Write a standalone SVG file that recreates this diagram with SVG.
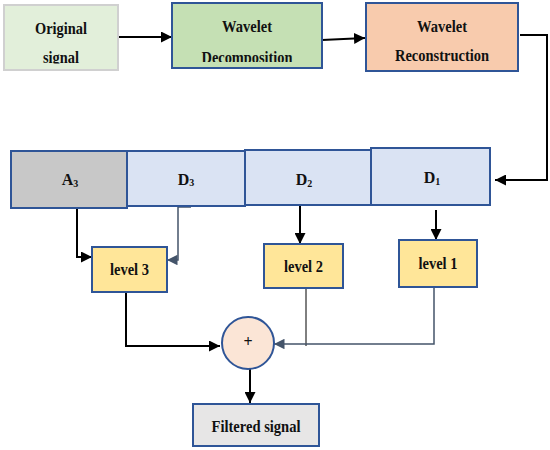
<svg xmlns="http://www.w3.org/2000/svg" width="550" height="450" viewBox="0 0 550 450">
<style>
text{font-family:"Liberation Serif","DejaVu Serif",serif;font-weight:bold;font-size:16px;fill:#111;text-anchor:middle}
.box{stroke:#2f5597;stroke-width:2}
.k{fill:none;stroke:#000;stroke-width:2}
.g{fill:none;stroke:#44546a;stroke-width:1.5}
.t{fill:none;stroke:#000;stroke-width:1}
</style>
<defs>
<marker id="ak" viewBox="0 0 10 10" refX="10" refY="5" markerWidth="5.5" markerHeight="5.5" orient="auto" markerUnits="strokeWidth"><path d="M0,0L10,5L0,10z" fill="#000"/></marker>
<marker id="ag" viewBox="0 0 10 10" refX="10" refY="5" markerWidth="7" markerHeight="7" orient="auto" markerUnits="strokeWidth"><path d="M0,0L10,5L0,10z" fill="#44546a"/></marker>
<clipPath id="c1"><rect x="4" y="5" width="114" height="58.5"/></clipPath>
<clipPath id="c2"><rect x="172" y="3" width="150" height="59"/></clipPath>
</defs>
<g id="connectors">
<path class="k" d="M118,37H172" marker-end="url(#ak)"/>
<path class="k" d="M322,40L365,38" marker-end="url(#ak)"/>
<path class="k" d="M520,35H547V180H495" marker-end="url(#ak)"/>
<path class="k" d="M57,208H77V257H92" marker-end="url(#ak)"/>
<path class="g" d="M191,207H178V260H167" marker-end="url(#ag)"/>
<path class="k" d="M300,206V244" marker-end="url(#ak)"/>
<path class="k" d="M436,210V240" marker-end="url(#ak)"/>
<path class="k" d="M126,280V346H220" marker-end="url(#ak)"/>
<path class="t" d="M306,270V346"/>
<path class="g" d="M434,275V344H274" marker-end="url(#ag)"/>
<path class="k" d="M250,369V403" marker-end="url(#ak)"/>
</g>
<g id="original"><rect x="4" y="5" width="114" height="65" fill="#e2efda" stroke="#d0d0d0" stroke-width="2"/><g clip-path="url(#c1)"><text x="61" y="34" textLength="52" lengthAdjust="spacingAndGlyphs">Original</text><text x="61" y="62.5" textLength="36" lengthAdjust="spacingAndGlyphs">signal</text></g></g>
<g id="decomposition"><rect class="box" x="172" y="3" width="150" height="65" fill="#c5e0b4"/><g clip-path="url(#c2)"><text x="247" y="32" textLength="50" lengthAdjust="spacingAndGlyphs">Wavelet</text><text x="247" y="62.5" textLength="91" lengthAdjust="spacingAndGlyphs">Decomposition</text></g></g>
<g id="reconstruction"><rect class="box" x="366" y="3" width="152" height="68" fill="#f8cbad"/><text x="442" y="31.5" textLength="50" lengthAdjust="spacingAndGlyphs">Wavelet</text><text x="442" y="61" textLength="94" lengthAdjust="spacingAndGlyphs">Reconstruction</text></g>
<g id="a3"><rect class="box" x="11" y="151" width="116" height="57" fill="#c8c8c8"/><text x="70" y="185" font-size="15">A<tspan font-size="10" dy="2">3</tspan></text></g>
<g id="d3"><rect class="box" x="127" y="151" width="118" height="55" fill="#dae3f3"/><text x="186" y="185" font-size="15">D<tspan font-size="10" dy="1">3</tspan></text></g>
<g id="d2"><rect class="box" x="245" y="150" width="126" height="55" fill="#dae3f3"/><text x="304" y="185" font-size="15">D<tspan font-size="10" dy="2">2</tspan></text></g>
<g id="d1"><rect class="box" x="371" y="148" width="119" height="57" fill="#dae3f3"/><text x="432" y="183" font-size="15">D<tspan font-size="10" dy="2">1</tspan></text></g>
<g id="level3"><rect class="box" x="92" y="247" width="75" height="45" fill="#ffe699"/><text x="129.5" y="275" textLength="39" lengthAdjust="spacingAndGlyphs">level 3</text></g>
<g id="level2"><rect class="box" x="264" y="244" width="79" height="44" fill="#ffe699"/><text x="303.5" y="272" textLength="39" lengthAdjust="spacingAndGlyphs">level 2</text></g>
<g id="level1"><rect class="box" x="399" y="240" width="78" height="47" fill="#ffe699"/><text x="438" y="269" textLength="39" lengthAdjust="spacingAndGlyphs">level 1</text></g>
<g id="sum"><circle class="box" cx="248" cy="343" r="26" fill="#fbe5d6"/><text x="248" y="347" font-weight="normal" font-size="11">+</text></g>
<g id="filtered"><rect class="box" x="193" y="404" width="126" height="42" fill="#e7e6e6"/><text x="256" y="432" textLength="89" lengthAdjust="spacingAndGlyphs">Filtered signal</text></g>
</svg>
